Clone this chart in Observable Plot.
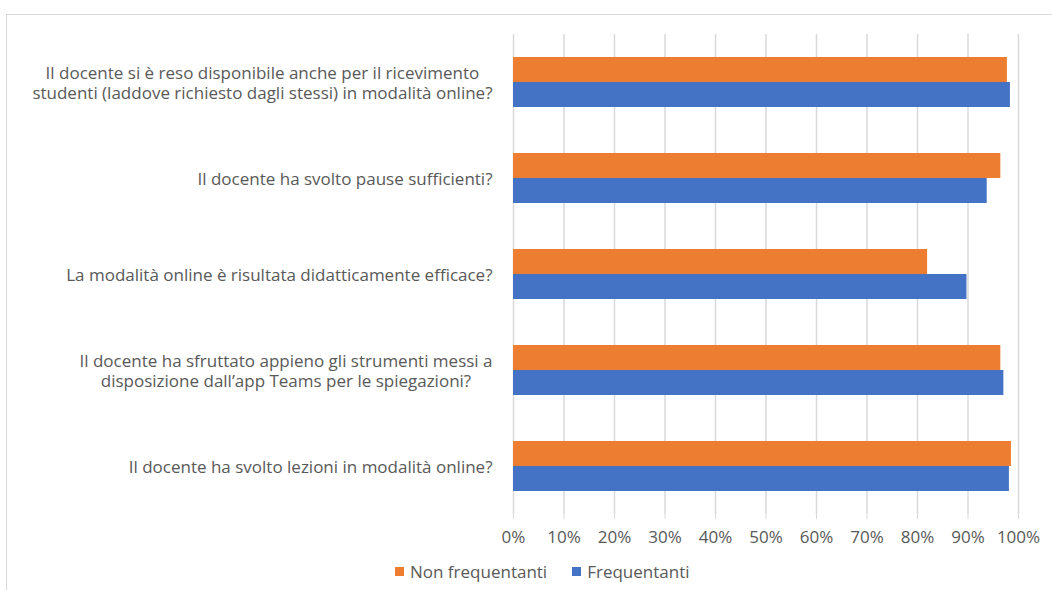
<!DOCTYPE html>
<html>
<head>
<meta charset="utf-8">
<script src="https://cdn.jsdelivr.net/npm/d3@7"></script>
<script src="https://cdn.jsdelivr.net/npm/@observablehq/plot@0.6"></script>
<style>
  html, body { margin: 0; padding: 0; background: #fff; }
  body { width: 1052px; height: 590px; position: relative; overflow: hidden; font-family: "Open Sans", sans-serif; }
  #frame { position: absolute; left: 6px; top: 14px; width: 1100px; height: 700px; border-left: 1.5px solid #d9d9d9; border-top: 1.5px solid #d9d9d9; box-sizing: border-box; }
  #chart { position: absolute; left: 0; top: 0; }
  #legend { position: absolute; top: 560px; left: 395px; display: flex; align-items: center; font-size: 17px; color: #595959; }
  .sw { width: 9px; height: 9px; display: inline-block; margin-right: 6px; }
  .item { display: flex; align-items: center; margin-right: 25px; }
</style>
</head>
<body>
<div id="frame"></div>
<div id="chart"></div>
<div id="legend"></div>
<script>
const categories = [
  "Il docente si è reso disponibile anche per il ricevimento\nstudenti (laddove richiesto dagli stessi) in modalità online?",
  "Il docente ha svolto pause sufficienti?",
  "La modalità online è risultata didatticamente efficace?",
  "Il docente ha sfruttato appieno gli strumenti messi a\ndisposizione dall’app Teams per le spiegazioni?",
  "Il docente ha svolto lezioni in modalità online?"
];
const series = ["Non frequentanti", "Frequentanti"];
const nonFrequentanti = [97.8, 96.5, 82.0, 96.5, 98.6];
const frequentanti = [98.4, 93.8, 89.8, 97.1, 98.2];
const xTicks = [0, 10, 20, 30, 40, 50, 60, 70, 80, 90, 100];
const colors = ["#ED7D31", "#4472C4"];

const data = categories.flatMap((c, i) => [
  {category: c, series: series[0], value: nonFrequentanti[i]},
  {category: c, series: series[1], value: frequentanti[i]}
]);

const W = 1052, ML = 513, MR = 34, FS = 17, LABEL_GAP = 21;
const FONT = "Open Sans, sans-serif";

// measure label widths so multi-line labels are centred (as in Excel) with right edge near the axis
const ctx = document.createElement("canvas").getContext("2d");
ctx.font = `${FS}px "Open Sans"`;
const xDomain = [0, 100];
const pxToX = px => xDomain[0] + (px - ML) / (W - MR - ML) * (xDomain[1] - xDomain[0]);
const labelX = c => {
  const w = d3.max(c.split("\n"), l => ctx.measureText(l).width);
  return pxToX(ML - LABEL_GAP - w / 2);
};

const chart = Plot.plot({
  width: W,
  height: 556,
  marginLeft: ML,
  marginRight: MR,
  marginTop: 34,
  marginBottom: 42,
  style: {fontFamily: FONT, fontSize: FS + "px", color: "#595959", background: "transparent"},
  x: {domain: xDomain},
  y: {domain: series, paddingInner: 0, paddingOuter: 0.92, axis: null},
  fy: {domain: categories, padding: 0, axis: null},
  color: {domain: series, range: colors},
  marks: [
    Plot.gridX(xTicks, {stroke: "#d9d9d9", strokeOpacity: 1, strokeWidth: 1.5}),
    Plot.barX(data, {x: "value", y: "series", fy: "category", fill: "series"}),
    Plot.axisX(xTicks, {tickSize: 5, tickPadding: 11, stroke: "#d9d9d9", fill: "#595959", tickFormat: d => d + "%", label: null, fontSize: FS}),
    Plot.text(categories, {fy: d => d, x: labelX, text: d => d, textAnchor: "middle", lineHeight: 1.2, fontSize: FS, fill: "#595959"})
  ]
});
document.getElementById("chart").appendChild(chart);

const legend = document.getElementById("legend");
series.forEach((s, i) => {
  const item = document.createElement("div");
  item.className = "item";
  const sw = document.createElement("span");
  sw.className = "sw";
  sw.style.background = colors[i];
  item.appendChild(sw);
  item.appendChild(document.createTextNode(s));
  legend.appendChild(item);
});
</script>
</body>
</html>
